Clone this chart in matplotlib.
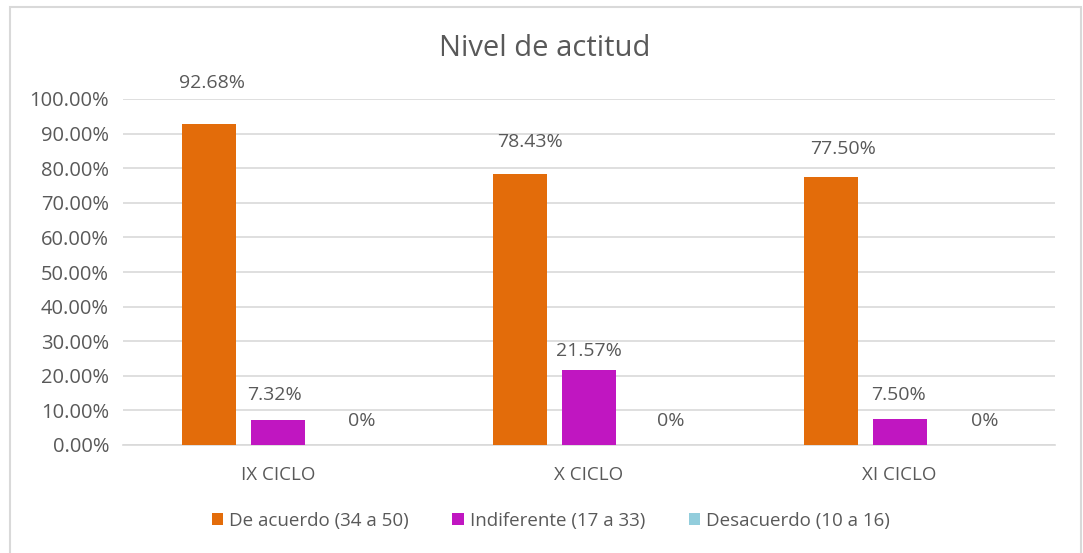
import matplotlib
matplotlib.use("Agg")
import matplotlib.pyplot as plt
from matplotlib.patches import Rectangle
import numpy as np

categories = ["IX CICLO", "X CICLO", "XI CICLO"]
series_names = ["De acuerdo (34 a 50)", "Indiferente (17 a 33)", "Desacuerdo (10 a 16)"]
de_acuerdo = [92.68, 78.43, 77.50]
indiferente = [7.32, 21.57, 7.50]
desacuerdo = [0.0, 0.0, 0.0]
labels_acuerdo = ["92.68%", "78.43%", "77.50%"]
labels_indif = ["7.32%", "21.57%", "7.50%"]
labels_desac = ["0%", "0%", "0%"]
yticks = [0, 10, 20, 30, 40, 50, 60, 70, 80, 90, 100]

colors = ["#E36C0A", "#C016C1", "#92CDDC"]
text_color = "#595959"
font = "Open Sans"

fig = plt.figure(figsize=(10.83, 5.53), dpi=100)
W, H = 1083, 553
ax = fig.add_axes([123 / W, 1 - 445 / H, (1055 - 123) / W, (445 - 99) / H])

# outer chart border
fig.patches.append(Rectangle((10 / W, -0.02), (1081 - 10) / W, 1 - 6.5 / H + 0.02,
                             transform=fig.transFigure, fill=False,
                             edgecolor="#D9D9D9", linewidth=1.5))

x = np.arange(len(categories))
bw = 0.174
offsets = [-0.222, 0.0, 0.222]
all_vals = [de_acuerdo, indiferente, desacuerdo]
all_labels = [labels_acuerdo, labels_indif, labels_desac]
# label offsets (pixels) relative to bar top centre, as placed in the original
label_dx = [[3, 10, 12], [-4, 0, -1], [14, 13, 16]]
label_dy = [[41, 32, 28], [25, 19, 24], [24, 24, 24]]

for i, (vals, labs) in enumerate(zip(all_vals, all_labels)):
    bars = ax.bar(x + offsets[i], vals, bw, color=colors[i], label=series_names[i], zorder=3)
    for j, (b, lab) in enumerate(zip(bars, labs)):
        ax.annotate(lab, (b.get_x() + b.get_width() / 2, b.get_height()),
                    xytext=(label_dx[i][j] * 0.72, label_dy[i][j] * 0.72),
                    textcoords="offset points", ha="center", va="center",
                    fontsize=14, color=text_color, family=font)

ax.set_xlim(-0.5, 2.5)
ax.set_ylim(0, 100)
ax.set_yticks(yticks)
ax.set_yticklabels([f"{v:.2f}%" for v in yticks], fontsize=14.5, color=text_color, family=font)
ax.set_xticks(x)
ax.set_xticklabels(categories, fontsize=13.5, color=text_color, family=font)
ax.tick_params(axis="both", length=0)
ax.tick_params(axis="x", pad=15)
ax.tick_params(axis="y", pad=10)
ax.yaxis.grid(True, color="#D9D9D9", linewidth=1.2, zorder=0)
for s in ["top", "right", "left"]:
    ax.spines[s].set_visible(False)
ax.spines["bottom"].set_color("#D9D9D9")
ax.spines["bottom"].set_linewidth(1.2)

fig.text(545 / W, 1 - 48 / H, "Nivel de actitud", ha="center", va="center",
         fontsize=21, color=text_color, family=font)

leg = fig.legend(loc="center", bbox_to_anchor=(551 / W, 1 - 521 / H), ncol=3,
                 frameon=False, handlelength=0.6, handleheight=0.6, handletextpad=0.35,
                 columnspacing=2.3, prop={"family": font, "size": 13.5})
for t in leg.get_texts():
    t.set_color(text_color)

fig.savefig("out.png", dpi=100, facecolor="white")
